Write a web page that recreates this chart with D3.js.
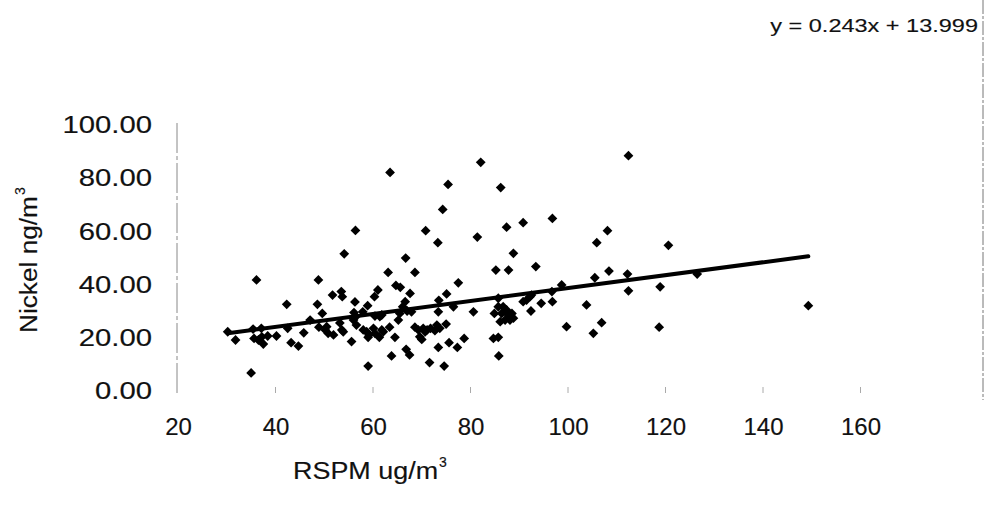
<!DOCTYPE html>
<html>
<head>
<meta charset="utf-8">
<script src="https://cdn.jsdelivr.net/npm/d3@7"></script>
<style>
  body { margin: 0; background: #fff; }
  svg { display: block; font-family: "Liberation Sans", Arial, sans-serif; }
  svg text { fill: #111; stroke: #111; stroke-width: 0.15px; }
</style>
</head>
<body>
<svg id="chart" width="985" height="522"></svg>
<script>
// RSPM (ug/m3) and Nickel (ng/m3) paired observations
const rspm = [
  30.2, 31.8, 35.0, 36.1, 35.4, 37.1, 35.6, 36.5, 37.5, 37.2, 38.4, 40.2, 42.3, 42.5, 43.2, 44.7,
  45.8, 47.1, 48.8, 48.6, 49.6, 48.9, 50.2, 50.5, 50.8, 51.9, 51.7, 53.5, 53.7, 54.1, 53.2, 53.9,
  56.3, 56.4, 58.9, 60.3, 61.0, 63.5, 63.1, 64.7, 65.6, 67.6, 66.6, 66.1, 67.0, 66.7, 68.6, 70.8,
  73.3, 74.3, 75.4, 75.1, 73.5, 73.4, 76.5, 77.5, 56.1, 56.5, 56.0, 57.9, 60.4, 61.4, 61.8, 65.5,
  65.2, 67.9, 53.6, 56.6, 58.0, 58.7, 59.2, 60.1, 60.4, 59.0, 61.8, 61.3, 62.1, 63.4, 55.6, 64.5,
  68.6, 69.3, 69.6, 70.3, 70.7, 71.1, 71.8, 72.7, 73.1, 73.7, 75.0, 70.0, 66.8, 67.5, 63.8, 59.0,
  71.6, 74.6, 73.4, 75.6, 77.3, 78.7, 88.8, 85.2, 87.8, 93.4, 85.7, 80.6, 84.9, 85.7, 86.7, 87.4,
  86.4, 87.8, 88.5, 86.1, 87.1, 88.1, 88.8, 90.8, 91.5, 92.2, 92.5, 92.4, 94.5, 96.8, 96.7, 98.7,
  103.8, 99.7, 105.2, 84.7, 85.7, 85.8, 105.5, 112.4, 82.1, 86.2, 96.8, 90.8, 87.4, 108.1, 105.9, 81.4,
  120.6, 108.4, 112.2, 112.4, 118.9, 118.7, 106.9, 126.5, 149.3
];
const nickel = [
  21.9, 18.8, 6.4, 41.4, 22.9, 23.2, 19.4, 18.8, 17.3, 20.0, 20.3, 20.3, 32.2, 23.2, 17.8, 16.5,
  21.5, 26.3, 41.4, 32.2, 28.8, 23.6, 22.6, 23.8, 21.3, 20.7, 35.7, 37.0, 35.1, 51.2, 25.2, 21.9,
  33.1, 60.0, 31.7, 35.1, 37.6, 81.8, 44.2, 39.3, 38.6, 36.3, 33.2, 31.3, 29.7, 49.6, 44.2, 59.9,
  55.4, 67.9, 77.3, 36.1, 33.7, 29.4, 31.3, 40.3, 29.1, 27.6, 26.3, 29.4, 27.8, 27.6, 28.2, 28.8,
  26.3, 29.4, 22.6, 24.4, 22.6, 21.9, 20.7, 23.2, 21.3, 19.8, 22.6, 19.8, 21.9, 23.6, 18.2, 19.8,
  23.6, 22.6, 20.0, 23.2, 21.9, 22.6, 23.2, 22.3, 24.4, 23.2, 24.8, 19.0, 15.3, 13.2, 12.8, 9.0,
  10.3, 9.0, 16.0, 17.8, 16.0, 19.4, 51.4, 45.1, 45.1, 46.4, 34.5, 29.4, 28.8, 31.3, 31.3, 30.1,
  28.8, 28.2, 28.8, 25.7, 26.3, 26.3, 27.0, 33.2, 33.8, 35.1, 35.7, 29.7, 32.6, 33.2, 37.0, 39.5,
  32.0, 23.8, 21.3, 19.4, 19.8, 12.8, 42.2, 88.1, 85.6, 76.1, 64.5, 62.9, 61.2, 59.9, 55.4, 57.5,
  54.4, 44.7, 43.6, 37.3, 38.8, 23.6, 25.3, 43.6, 31.7
];
const xTickValues = [20, 40, 60, 80, 100, 120, 140, 160];
const yTickValues = [0, 20, 40, 60, 80, 100];
const trendSlope = 0.243;
const trendIntercept = 13.999;

const svg = d3.select("#chart");
const x = d3.scaleLinear().domain([20, 160]).range([178, 860.5]);
const y = d3.scaleLinear().domain([0, 100]).range([390, 124]);

// widen glyphs horizontally by a factor, keeping the anchor; returns the new length
function stretch(sel, f) {
  let last = 0;
  sel.each(function () {
    const w = this.getComputedTextLength() * f;
    d3.select(this).attr("textLength", w).attr("lengthAdjust", "spacingAndGlyphs");
    last = w;
  });
  return last;
}

// right-hand frame edge
svg.append("line")
  .attr("x1", 983).attr("x2", 983).attr("y1", 0).attr("y2", 400)
  .attr("stroke", "#777").attr("stroke-width", 1).attr("stroke-dasharray", "14,2,3,2");

// vertical axis line
svg.append("line")
  .attr("x1", 177).attr("x2", 177).attr("y1", y(100) - 1).attr("y2", y(0) + 5)
  .attr("stroke", "#888").attr("stroke-width", 1).attr("stroke-dasharray", "30,3,4,3");

// small tick marks along the bottom
svg.append("g").selectAll("line").data(xTickValues.slice(1)).join("line")
  .attr("x1", d => x(d)).attr("x2", d => x(d))
  .attr("y1", 387).attr("y2", 393)
  .attr("stroke", "#aaa").attr("stroke-width", 1);

// y axis labels
const gy = svg.append("g").attr("transform", "translate(152,0)")
  .call(d3.axisLeft(y).tickValues(yTickValues).tickFormat(d3.format(".2f")).tickSize(0).tickPadding(0));
gy.select(".domain").remove();
gy.attr("font-size", 24).attr("font-family", null);
gy.selectAll("text").attr("fill", null).attr("dy", "0.36em");
stretch(gy.selectAll("text"), 1.22);

// x axis labels
const gx = svg.append("g").attr("transform", "translate(0,418)")
  .call(d3.axisBottom(x).tickValues(xTickValues).tickFormat(d3.format("d")).tickSize(0).tickPadding(0));
gx.select(".domain").remove();
gx.attr("font-size", 24).attr("font-family", null);
gx.selectAll("text").attr("fill", null);

// axis titles
const xt = svg.append("text").attr("x", 293).attr("y", 479)
  .attr("font-size", 23).text("RSPM ug/m");
const xtLen = stretch(xt, 1.17);
svg.append("text").attr("x", 293 + xtLen + 1).attr("y", 467)
  .attr("font-size", 14).text("3");

const yt = svg.append("g").attr("transform", "translate(37,333) rotate(-90)");
const ytm = yt.append("text").attr("x", 0).attr("y", 0)
  .attr("font-size", 23).text("Nickel ng/m");
const ytLen = stretch(ytm, 1.14);
yt.append("text").attr("x", ytLen + 1).attr("y", -12)
  .attr("font-size", 14).text("3");

// regression equation
const eq = svg.append("text").attr("x", 978).attr("y", 32).attr("text-anchor", "end")
  .attr("font-size", 18.5)
  .text(`y = ${trendSlope}x + ${trendIntercept}`);
stretch(eq, 1.27);

// data points as diamonds
const diamond = d3.symbol().type(d3.symbolSquare).size(48);
svg.append("g").selectAll("path").data(rspm.map((v, i) => [v, nickel[i]])).join("path")
  .attr("d", diamond)
  .attr("transform", d => `translate(${x(d[0])},${y(d[1])}) rotate(45)`)
  .attr("fill", "#000");

// linear trend line
const [xMin, xMax] = d3.extent(rspm);
svg.append("line")
  .attr("x1", x(xMin)).attr("y1", y(trendSlope * xMin + trendIntercept))
  .attr("x2", x(xMax)).attr("y2", y(trendSlope * xMax + trendIntercept))
  .attr("stroke", "#000").attr("stroke-width", 4).attr("stroke-linecap", "round");
</script>
</body>
</html>
